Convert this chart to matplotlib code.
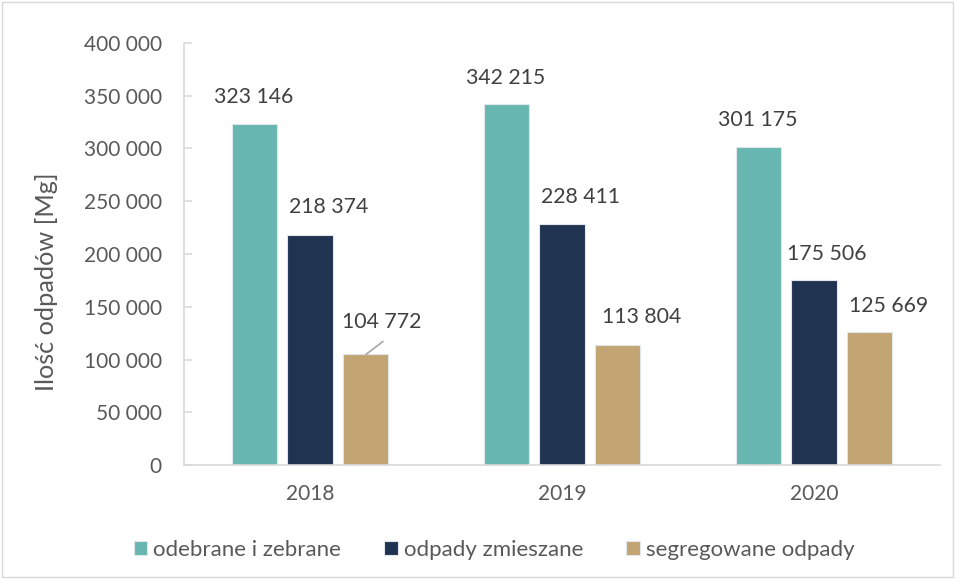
import matplotlib
matplotlib.use("Agg")
import matplotlib.pyplot as plt
import numpy as np
from matplotlib.patches import Rectangle
from matplotlib.ticker import FuncFormatter

years = ["2018", "2019", "2020"]
series_names = ["odebrane i zebrane", "odpady zmieszane", "segregowane odpady"]
odebrane = [323146, 342215, 301175]
zmieszane = [218374, 228411, 175506]
segregowane = [104772, 113804, 125669]
yticks = [0, 50000, 100000, 150000, 200000, 250000, 300000, 350000, 400000]

colors = ["#67B7B0", "#203350", "#C3A473"]
text_color = "#595959"
font = ["Lato", "DejaVu Sans"]
plt.rcParams["font.family"] = font

fig = plt.figure(figsize=(9.57, 5.79), dpi=100)
ax = fig.add_axes([184/957, 114/579, 756/957, 422/579])

x = np.arange(len(years))
width = 0.179
step = 0.222
data = [odebrane, zmieszane, segregowane]
# label offsets in pixels (dx, dy) relative to bar top centre; [series][year]
offsets = [
    [(0, 27), (0, 26), (0, 27)],
    [(19, 27.5), (18.5, 27), (13, 26)],
    [(16, 32.5), (23.5, 27.5), (19, 26)],
]
px = 0.72
for i, (vals, c, name) in enumerate(zip(data, colors, series_names)):
    pos = x + (i - 1) * step
    ax.bar(pos, vals, width, color=c, edgecolor="#e0e6ea", linewidth=0.8, label=name, zorder=2)
    for j, (p, v) in enumerate(zip(pos, vals)):
        dx, dy = offsets[i][j]
        ax.annotate(f"{v:,}".replace(",", " "), (p, v), xytext=(dx*px, dy*px),
                    textcoords="offset points", ha="center", va="center",
                    fontsize=15.3, color="#404040")

# leader line for 2018 segregowane
ax.annotate("", (x[0] + step, segregowane[0]), xytext=(17*px, 13*px),
            textcoords="offset points",
            arrowprops=dict(arrowstyle="-", color="#a6a6a6", lw=1.2, shrinkA=0, shrinkB=0))

ax.set_xlim(-0.5, 2.5)
ax.set_ylim(0, 400000)
ax.set_yticks(yticks)
ax.yaxis.set_major_formatter(FuncFormatter(lambda v, p: f"{int(v):,}".replace(",", " ")))
ax.set_xticks(x)
ax.set_xticklabels(years)
ax.tick_params(axis="x", length=0, labelsize=15, colors=text_color, pad=14)
ax.tick_params(axis="y", direction="in", length=6, width=1.2, color="#d9d9d9",
               labelsize=15, labelcolor=text_color, pad=16)
for s in ["top", "right"]:
    ax.spines[s].set_visible(False)
for s in ["bottom", "left"]:
    ax.spines[s].set_color("#d9d9d9")
    ax.spines[s].set_linewidth(1.2)

fig.text(47/957, 1 - 281.5/579, "Ilość odpadów [Mg]", rotation=90, ha="center", va="center",
         fontsize=18.2, color=text_color)

leg = fig.legend(loc="center", bbox_to_anchor=(494/957, 1 - 550/579), ncol=3, frameon=False,
                 fontsize=16, handlelength=0.6, handleheight=0.6, handletextpad=0.27,
                 columnspacing=1.95, labelcolor=text_color)

fig.patches.append(Rectangle((0.002, 0.004), 0.994, 0.992, transform=fig.transFigure,
                             fill=False, edgecolor="#d9d9d9", linewidth=1.0))

fig.savefig("out.png", dpi=100)
